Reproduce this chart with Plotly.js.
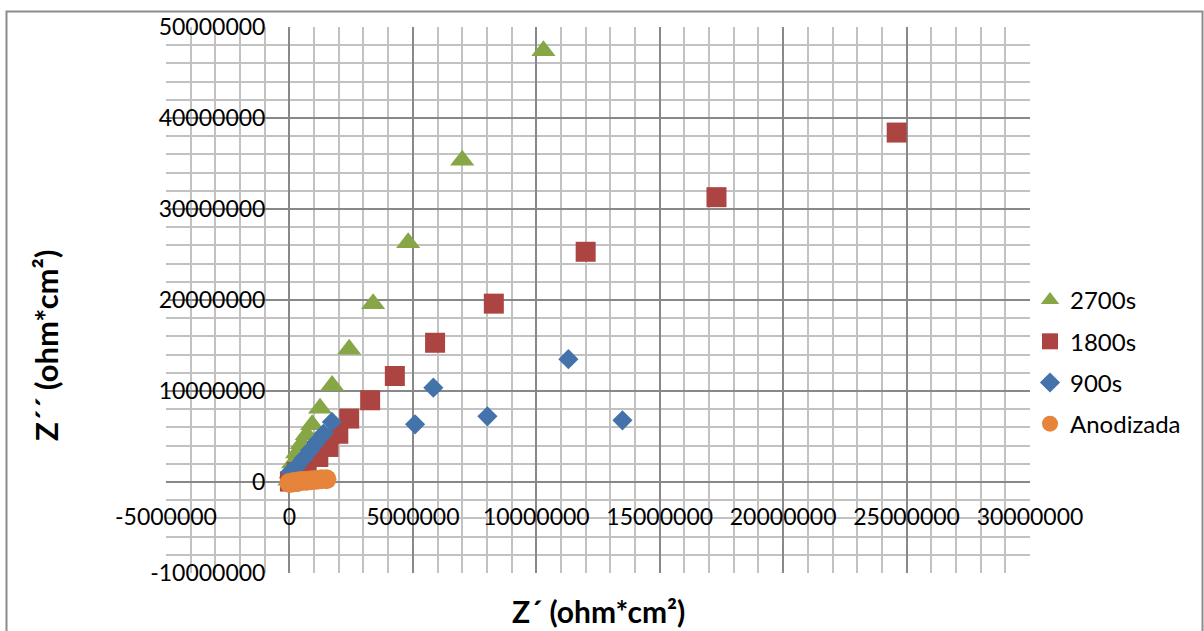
<!DOCTYPE html>
<html>
<head>
<meta charset="utf-8">
<script src="https://cdn.plot.ly/plotly-3.0.1.min.js"></script>
<style>html,body{margin:0;padding:0;background:#fff;}#chart{width:1204px;height:631px;}</style>
</head>
<body>
<div id="chart"></div>
<script>
// Data (values in ohm*cm2)
const seriesNames = ["2700s", "1800s", "900s", "Anodizada"];

const x2700 = [10290000, 7000000, 4810000, 3390000, 2420000, 1730000, 1240000, 920000, 700000, 500000, 310000, 150000, 50000, 0];
const y2700 = [47400000, 35350000, 26300000, 19600000, 14600000, 10600000, 8100000, 6300000, 5200000, 4200000, 3200000, 2100000, 1000000, 200000];

const x1800 = [24600000, 17300000, 12000000, 8280000, 5900000, 4270000, 3270000, 2420000, 1980000, 1580000, 1170000, 700000, 300000, 20000];
const y1800 = [38400000, 31300000, 25300000, 19600000, 15300000, 11650000, 8980000, 6970000, 5300000, 3850000, 2750000, 1840000, 1100000, 50000];

const x900 = [13490000, 11300000, 8020000, 5830000, 5090000, 1720000, 1380000, 1100000, 840000, 570000, 300000, 30000];
const y900 = [6780000, 13500000, 7220000, 10370000, 6340000, 6600000, 5300000, 4400000, 3500000, 2570000, 1730000, 1100000];

const xAnod = [0, 100000, 200000, 350000, 500000, 700000, 900000, 1100000, 1300000, 1500000];
const yAnod = [-100000, -50000, 0, 50000, 100000, 150000, 200000, 250000, 300000, 300000];

const xTickVals = [-5000000, 0, 5000000, 10000000, 15000000, 20000000, 25000000, 30000000];
const xTickText = ["-5000000", "0", "5000000", "10000000", "15000000", "20000000", "25000000", "30000000"];
const yTickVals = [-10000000, 0, 10000000, 20000000, 30000000, 40000000, 50000000];
const yTickText = ["-10000000", "0", "10000000", "20000000", "30000000", "40000000", "50000000"];

const xTitle = "Z\u00B4 (ohm*cm\u00B2)";
const yTitle = "Z\u00B4\u00B4 (ohm*cm\u00B2)";

const colors = ["#87A646", "#AC4542", "#4472AB", "#E5843A"];
const FONT = "Lato, 'Open Sans', sans-serif";

// Plotly writes negatives with U+2212; alias them to the reference's labels
function aliasFor(vals, texts) {
  const m = {};
  vals.forEach((v, i) => { m[String(v).replace("-", "\u2212")] = texts[i]; });
  return m;
}

const traces = [
  {x: x2700, y: y2700, name: seriesNames[0], legendgroup: "a", mode: "markers", type: "scatter",
   marker: {symbol: "triangle-up", size: 21, color: colors[0], line: {width: 0}}},
  {x: x1800, y: y1800, name: seriesNames[1], legendgroup: "b", mode: "markers", type: "scatter",
   marker: {symbol: "square", size: 20, color: colors[1], line: {width: 0}}},
  {x: x900, y: y900, name: seriesNames[2], legendgroup: "c", mode: "markers", type: "scatter",
   marker: {symbol: "diamond", size: 15.5, color: colors[2], line: {width: 0}}},
  {x: xAnod, y: yAnod, name: seriesNames[3], legendgroup: "d", mode: "markers", type: "scatter",
   marker: {symbol: "circle", size: 20, color: colors[3], line: {width: 0}}}
];

// plot area: x 166..1030, y 27..573
const L = 166, R = 174, T = 27, B = 58, W = 1204, H = 631;
const pw = W - L - R, ph = H - T - B;
const px = v => (v - L) / pw;
const py = v => (H - B - v) / ph;

const MAJOR = "#888888", MINOR = "#C2C2C2";

const layout = {
  width: W, height: H,
  margin: {l: L, r: R, t: T, b: B, pad: 0},
  separators: ".",
  paper_bgcolor: "#ffffff", plot_bgcolor: "#ffffff",
  font: {family: FONT, size: 23, color: "#000"},
  showlegend: true,
  legend: {x: px(1030), y: py(278), xanchor: "left", yanchor: "top",
           font: {family: FONT, size: 24, color: "#000"},
           traceorder: "grouped", tracegroupgap: 7, bgcolor: "rgba(0,0,0,0)"},
  xaxis: {
    range: [-5000000, 30000000], tickmode: "linear", tick0: 0, dtick: 5000000,
    exponentformat: "none", separatethousands: false,
    labelalias: aliasFor(xTickVals, xTickText),
    anchor: "free", position: 10 / 60, showline: false, ticks: "",
    ticklabelstandoff: 19,
    showgrid: true, gridcolor: MAJOR, gridwidth: 2,
    zeroline: true, zerolinecolor: MAJOR, zerolinewidth: 2,
    minor: {tickmode: "linear", tick0: 0, dtick: 1000000, showgrid: true, gridcolor: MINOR, gridwidth: 2},
    tickfont: {family: FONT, size: 23, color: "#000"},
    fixedrange: true
  },
  yaxis: {
    range: [-10000000, 50000000], tickmode: "linear", tick0: 0, dtick: 10000000,
    exponentformat: "none", separatethousands: false,
    labelalias: aliasFor(yTickVals, yTickText),
    anchor: "free", position: 5 / 35, showline: false, ticks: "",
    ticklabelstandoff: 24,
    showgrid: true, gridcolor: MAJOR, gridwidth: 2,
    zeroline: true, zerolinecolor: MAJOR, zerolinewidth: 2,
    minor: {tickmode: "linear", tick0: 0, dtick: 2000000, showgrid: true, gridcolor: MINOR, gridwidth: 2},
    tickfont: {family: FONT, size: 23, color: "#000"},
    fixedrange: true
  },
  annotations: [
    {text: xTitle, xref: "paper", yref: "paper", x: px(598), y: py(611), xanchor: "center", yanchor: "middle",
     showarrow: false, font: {family: FONT, size: 30, color: "#000", weight: "bold"}},
    {text: yTitle, xref: "paper", yref: "paper", x: px(46), y: py(346), xanchor: "center", yanchor: "middle",
     textangle: -90, showarrow: false, font: {family: FONT, size: 31, color: "#000", weight: "bold"}}
  ],
  shapes: [
    {type: "rect", xref: "paper", yref: "paper", x0: px(6.5), x1: px(1202.5), y0: py(660), y1: py(11.5),
     line: {color: "#8C8C8C", width: 2}, fillcolor: "rgba(0,0,0,0)", layer: "below"}
  ]
};

Plotly.newPlot("chart", traces, layout, {displayModeBar: false, staticPlot: true});
</script>
</body>
</html>
